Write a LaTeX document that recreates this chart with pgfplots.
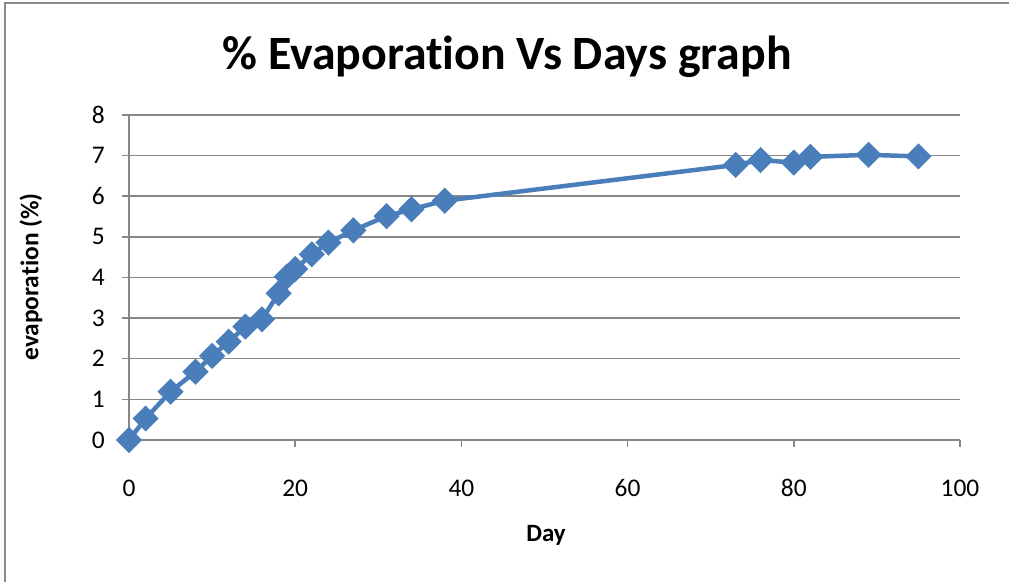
\documentclass[border=0pt]{standalone}
\usepackage{pgfplots}
\pgfplotsset{compat=1.18}
\usepackage{fontspec}
\setmainfont{Carlito}[Ligatures=NoCommon]
\definecolor{serieblue}{HTML}{4A7EBB}
\definecolor{gridgray}{HTML}{878787}
\definecolor{framegray}{HTML}{8C8C8C}

\begin{document}
\begin{tikzpicture}[x=1bp,y=1bp]
  \useasboundingbox (0,0) rectangle (1009,582);
  % chart frame (left and top edges)
  \draw[framegray, line width=2bp] (5,0) -- (5,579) -- (1009,579);

  \begin{axis}[
    at={(129bp,142bp)}, anchor=origin,
    scale only axis, width=831bp, height=325bp,
    xmin=0, xmax=100, ymin=0, ymax=8,
    xtick={0,20,...,100}, ytick={0,1,...,8},
    axis lines=left, axis line style={-, gridgray, line width=1.5bp},
    ymajorgrids, grid style={gridgray, line width=1.5bp},
    tick align=outside, major tick length=7bp,
    tick style={gridgray, line width=1.5bp},
    /pgf/number format/assume math mode=true,
    tick label style={font=\fontsize{25.5}{30}\selectfont, text=black},
    xticklabel style={anchor=base, yshift=-50bp},
    yticklabel style={anchor=east, inner sep=0pt, xshift=-17bp},
    clip=false,
  ]
    \addplot[serieblue, line width=4.5bp, mark=square*,
             mark size=7bp, mark options={rotate=45, solid, fill=serieblue}]
      coordinates {
        (0,0) (2,0.53) (5,1.19) (8,1.68) (10,2.07) (12,2.42) (14,2.79)
        (16,2.97) (18,3.61) (19,4.02) (20,4.21) (22,4.57) (24,4.86)
        (27,5.16) (31,5.51) (34,5.68) (38,5.89)
        (73,6.77) (76,6.89) (80,6.83) (82,6.97) (89,7.02) (95,6.98)
      };
  \end{axis}

  \node[anchor=base, font=\fontsize{48}{56}\selectfont\bfseries] at (507,512)
    {\% Evaporation Vs Days graph};
  \node[rotate=90, font=\fontsize{25.5}{30}\selectfont\bfseries] at (31,305)
    {evaporation (\%)};
  \node[font=\fontsize{25}{30}\selectfont\bfseries] at (546,47) {Day};
\end{tikzpicture}
\end{document}
